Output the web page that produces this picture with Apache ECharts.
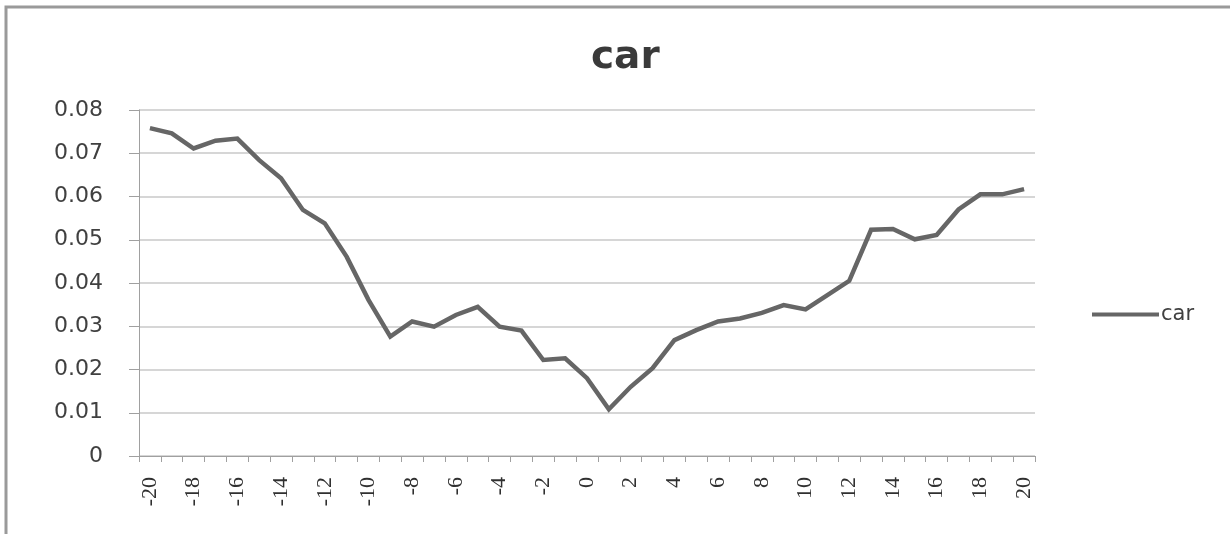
<!DOCTYPE html>
<html>
<head>
<meta charset="utf-8">
<script src="https://cdn.jsdelivr.net/npm/echarts@6/dist/echarts.min.js"></script>
<style>
  html, body { margin: 0; padding: 0; background: #fff; }
  #chart { width: 1230px; height: 534px; }
</style>
</head>
<body>
<div id="chart"></div>
<script>
// Event window (days relative to event) and the cumulative abnormal return series
const days = [];
for (let d = -20; d <= 20; d++) days.push(String(d));

const carValues = [
  0.0758, 0.0746, 0.0711, 0.0729, 0.0734, 0.0684, 0.0642, 0.0569, 0.0538, 0.0461,
  0.0361, 0.0276, 0.0311, 0.0299, 0.0326, 0.0345, 0.0299, 0.0290, 0.0222, 0.0226,
  0.0180, 0.0108, 0.0160, 0.0203, 0.0268, 0.0291, 0.0311, 0.0318, 0.0331, 0.0349,
  0.0339, 0.0372, 0.0405, 0.0523, 0.0525, 0.0501, 0.0511, 0.0570, 0.0605, 0.0605,
  0.0617
];

const seriesName = 'car';
const chartTitle = 'car';

const chart = echarts.init(document.getElementById('chart'));

chart.setOption({
  backgroundColor: '#ffffff',
  animation: false,
  title: {
    text: chartTitle,
    left: 586,
    top: 33,
    textStyle: {
      fontFamily: 'DejaVu Sans',
      fontWeight: 'bold',
      fontSize: 39,
      color: '#3a3a3a'
    }
  },
  legend: {
    data: [seriesName],
    left: 1087,
    top: 299,
    icon: 'rect',
    itemWidth: 67,
    itemHeight: 4,
    itemGap: 4,
    textStyle: {
      fontFamily: 'DejaVu Sans',
      fontSize: 21,
      color: '#404040',
      padding: [0, 0, 0, -3]
    }
  },
  grid: {
    left: 139,
    right: 195,
    top: 110,
    bottom: 78,
    containLabel: false
  },
  xAxis: {
    type: 'category',
    data: days,
    boundaryGap: true,
    axisLine: { lineStyle: { color: '#a0a0a0', width: 1 } },
    axisTick: { show: true, interval: 0, length: 6, lineStyle: { color: '#a0a0a0' } },
    axisLabel: {
      interval: 1,
      rotate: 90,
      margin: 21,
      fontFamily: 'Liberation Serif',
      fontSize: 22,
      color: '#303030'
    },
    splitLine: { show: false }
  },
  yAxis: {
    type: 'value',
    min: 0,
    max: 0.08,
    interval: 0.01,
    axisLine: { show: true, lineStyle: { color: '#a0a0a0', width: 1 } },
    axisTick: { show: true, length: 10, lineStyle: { color: '#a0a0a0' } },
    axisLabel: {
      margin: 36,
      fontFamily: 'DejaVu Sans',
      fontSize: 22,
      color: '#404040',
      formatter: function (v) { return v === 0 ? '0' : v.toFixed(2); }
    },
    splitLine: { show: true, lineStyle: { color: '#c8c8c8', width: 1.5 } }
  },
  series: [{
    name: seriesName,
    type: 'line',
    data: carValues,
    symbol: 'none',
    color: '#666666',
    lineStyle: { color: '#666666', width: 4.5, join: 'miter' }
  }],
  graphic: [{
    type: 'polyline',
    shape: { points: [[6, 534], [6, 7], [1230, 7]] },
    style: { stroke: '#9a9a9a', lineWidth: 3, fill: null }
  }]
});
</script>
</body>
</html>
